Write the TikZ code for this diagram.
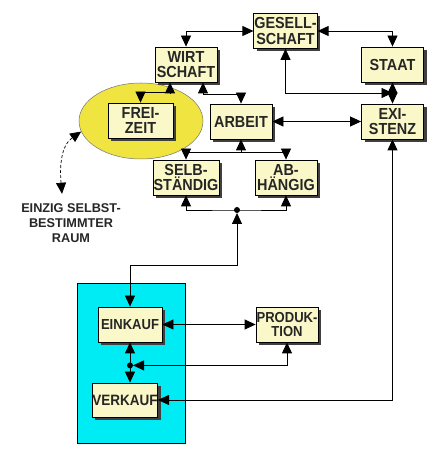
\documentclass[tikz,border=0pt]{standalone}
\usepackage{fontspec}
\setmainfont{Liberation Sans}
\newfontfamily\kastenfont[FakeStretch=0.9]{Liberation Sans}
\usepackage{tikz}
\usetikzlibrary{arrows.meta,calc,shadows,shapes.geometric}
\definecolor{kastengelb}{RGB}{250,248,200}
\definecolor{ellgelb}{RGB}{240,228,64}
\definecolor{marktblau}{RGB}{0,236,244}

\begin{document}
\begin{tikzpicture}[x=1pt,y=1pt,>={Triangle[length=11pt,width=10pt]},
  kasten/.style={draw=black, fill=kastengelb, minimum width=62pt, minimum height=35pt,
    inner sep=0.5pt, align=center, text=black!85,
    font=\kastenfont\bfseries\fontsize{16}{15.5}\selectfont,
    drop shadow={shadow xshift=3pt, shadow yshift=-3pt, fill=black!75, opacity=1}},
  every path/.append style={line width=0.8pt}]
\fill[white] (0,0) rectangle (441,458);
\useasboundingbox (0,0) rectangle (441,458);

% Bereiche
\node[ellipse, draw=black!55, line width=0.5pt, fill=ellgelb, minimum width=124pt, minimum height=76pt] (ell) at (141,337) {};
\draw[fill=marktblau] (77,15) rectangle (185,175);

% Kaesten
\node[kasten] (ges) at (285.5,427) {GESELL-\\SCHAFT};
\node[kasten] (wirt) at (186,393.5) {WIRT\\SCHAFT};
\node[kasten] (staat) at (392.5,393.5) {STAAT};
\node[kasten, minimum width=65pt] (frei) at (140.5,337.5) {FREI-\\ZEIT};
\node[kasten] (arbeit) at (241,336.5) {ARBEIT};
\node[kasten] (exi) at (392.5,336.5) {EXI-\\STENZ};
\node[kasten] (selb) at (186,280.5) {SELB-\\ST\"ANDIG};
\node[kasten] (abh) at (286,280.5) {AB-\\H\"ANGIG};
\node[kasten, minimum width=64pt,
  font=\kastenfont\bfseries\fontsize{14.5}{14.5}\selectfont] (ein) at (130,133.5) {EINKAUF};
\node[kasten, minimum width=64pt, minimum height=34pt, inner xsep=0pt,
  font=\kastenfont\bfseries\fontsize{15}{15}\selectfont] (ver) at (125,58) {VERKAUF};
\node[kasten, font=\kastenfont\bfseries\fontsize{14.5}{14.5}\selectfont] (prod) at (287,133.5) {PRODUK-\\TION};

\node[align=center, text=black!85, font=\bfseries\fontsize{12.7}{15}\selectfont] (raum) at (71,235) {EINZIG SELBST-\\BESTIMMTER\\RAUM};

% Verbindungen
\draw[<->] (wirt.north) |- (ges.west);
\draw[<->] (ges.east) -| (staat.north);
\draw[<->] (staat.south) -- (exi.north);
\draw[<->] (ges.south) |- ($(staat.south)!.5!(exi.north)$);
\draw[<->] (frei.north) -- ++(0,10) -| ([xshift=-16pt]wirt.south);
\draw[<->] ([xshift=17pt]wirt.south) -- ++(0,-12) -| (arbeit.north);
\draw[<->] (arbeit.east) -- (exi.west);
\draw[<-] (arbeit.south) -- ++(0,-13) coordinate (j1);
\draw[<->] (selb.north) |- (j1) -| (abh.north);
\coordinate (j2) at (237,248);
\draw[<->] (selb.south) |- (j2) -| (abh.south);
\fill (j2) circle (3pt);
\coordinate (k1) at (237,193);
\draw[<->] (ein.north) |- (k1) -- ($(j2)+(0,-3)$);
\draw[<->] (ein.east) -- (prod.west);
\coordinate (j3) at ($(ein.south)+(0,-23)$);
\draw[<->] (ein.south) -- (ein.south |- ver.north);
\fill (j3) circle (3pt);
\draw[<->] ($(j3)+(3,0)$) -| (prod.south);
\draw[<->] (ver.east) -| (exi.south);
\draw[<->, dash pattern=on 3pt off 2pt, line width=0.7pt] ($(raum.north)+(-9,6)$) to[out=95, in=215] (ell.190);
\end{tikzpicture}
\end{document}
